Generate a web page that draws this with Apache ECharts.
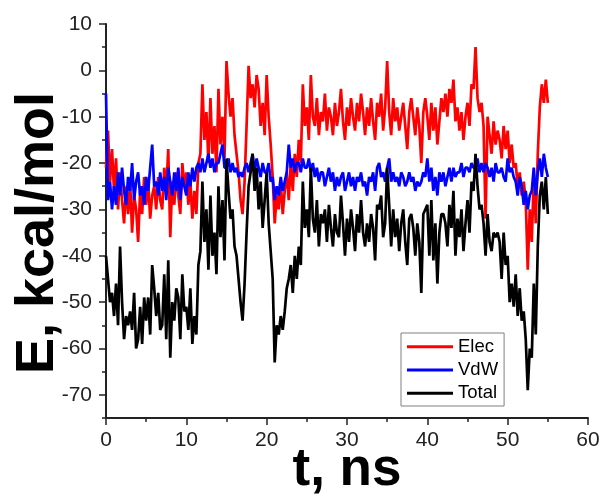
<!DOCTYPE html>
<html><head><meta charset="utf-8">
<script src="https://cdn.jsdelivr.net/npm/echarts@6/dist/echarts.min.js"></script>
<style>html,body{margin:0;padding:0;background:#fff}#c{width:601px;height:499px}</style>
</head><body><div id="c"></div>
<script>
const dt = 0.25; // ns between samples
const elec = [
-21,-13,-24,-17, -26,-19,-30,-22, -28,-33,-25,-31, -24,-35,-27,-30, -37,-26,-31,-23,
-29,-24,-32,-27, -25,-30,-23,-28, -30,-21,-26,-17, -36,-24,-29,-22, -27,-31,-20,-25,
-22,-29,-24,-32, -26,-31,-20,-18, -3,-15,-9,-20, -6,-18,-12,-22, -4,-16,-10,-19,
2,-5,-10,-6, -14,-18,-22,-28, -31,-24,-12,1, -6,-3,-8,-1, -4,-12,-7,-14,
-1,-10,-16,-23, -33,-27,-30,-24, -31,-26,-22,-28, -20,-26,-18,-23, -15,-20,-3,-12,
-8,-15,-1,-10, -12,-6,-14,-9, -11,-5,-13,-8, -10,-14,-7,-12, -9,-4,-11,-15,
-8,-12,-6,-10, -13,-7,-11,-5, -9,-14,-8,-12, -6,-11,-15,-7, -10,-5,-13,-8,
2,-9,-14,-6, -11,-8,-13,-10, -7,-12,-17,-9, -6,-10,-14,-8, -12,-20,-9,-6,
-10,-15,-7,-13, -8,-16,-11,-6, -9,-5,-10,-4, -7,-2,-11,-8, -13,-9,-15,-10,
-7,-12,-3,-4, 5,-6,-9,-7, -12,-32,-10,-14, -18,-11,-16,-13, -15,-19,-12,-17,
-13,-20,-16,-21, -20,-25,-22,-27, -24,-28,-43,-30, -37,-23,-33,-18, -8,-3,-7,-2,
-7
];
const vdw = [
-5,-28,-24,-30, -25,-29,-22,-27, -21,-26,-29,-23, -26,-20,-28,-24, -22,-27,-25,-29,
-23,-26,-21,-16, -25,-24,-27,-22, -26,-23,-28,-21, -24,-27,-22,-26, -21,-28,-23,-25,
-27,-22,-25,-21, -24,-21,-20,-22, -19,-22,-20,-18, -21,-19,-22,-20, -20,-18,-16,-21,
-21,-19,-22,-20, -22,-21,-23,-22, -23,-21,-20,-22, -20,-18,-22,-19, -21,-23,-20,-22,
-22,-20,-24,-23, -28,-25,-27,-23, -26,-24,-22,-16, -21,-19,-22,-20, -20,-22,-19,-21,
-21,-19,-22,-20, -23,-21,-24,-22, -22,-25,-23,-21, -24,-22,-26,-23, -25,-23,-22,-26,
-24,-22,-25,-23, -26,-23,-24,-22, -25,-24,-27,-23, -24,-22,-26,-21, -20,-23,-22,-24,
-21,-19,-24,-22, -24,-23,-25,-22, -23,-25,-24,-22, -24,-23,-26,-24, -25,-24,-22,-23,
-19,-24,-21,-26, -23,-27,-22,-24, -22,-25,-23,-21, -24,-21,-23,-22, -22,-20,-23,-21,
-21,-22,-20,-21, -21,-19,-22,-20, -22,-20,-21,-23, -21,-24,-20,-22, -22,-21,-23,-24,
-19,-22,-21,-23, -24,-27,-23,-25, -29,-26,-30,-27, -26,-21,-27,-22, -19,-23,-18,-21,
-23
];
const total = [
-40,-45,-50,-48, -53,-46,-55,-38, -50,-58,-53,-55, -52,-56,-48,-60, -58,-51,-59,-49,
-54,-49,-57,-42, -47,-53,-48,-56, -55,-44,-58,-41, -62,-50,-54,-47, -49,-58,-44,-52,
-51,-56,-47,-59, -53,-57,-42,-39, -24,-37,-30,-43, -27,-40,-35,-44, -25,-36,-28,-41,
-19,-26,-32,-30, -38,-40,-45,-50, -54,-46,-35,-25, -22,-18,-26,-21, -30,-24,-34,-28,
-22,-33,-39,-45, -63,-55,-57,-53, -56,-52,-47,-45, -42,-48,-40,-45, -38,-42,-24,-34,
-30,-36,-21,-32, -35,-28,-38,-31, -33,-30,-37,-29, -34,-38,-31,-35, -36,-27,-33,-40,
-32,-37,-30,-34, -39,-31,-35,-28, -35,-38,-33,-37, -31,-34,-41,-29, -30,-27,-36,-33,
-21,-29,-38,-30, -36,-32,-39,-33, -30,-37,-42,-32, -31,-34,-40,-33, -37,-48,-31,-30,
-29,-40,-28,-41, -33,-46,-35,-31, -31,-33,-38,-29, -34,-26,-40,-32, -36,-30,-39,-33,
-28,-35,-24,-26, -18,-25,-30,-29, -33,-40,-31,-37, -39,-35,-36,-35, -37,-45,-35,-42,
-40,-50,-46,-51, -44,-53,-47,-54, -52,-58,-69,-60, -62,-46,-57,-38, -27,-24,-30,-23,
-31
];
const seriesNames = ['Elec', 'VdW', 'Total'];
const xTicks = [0, 10, 20, 30, 40, 50, 60];
const yTicks = [10, 0, -10, -20, -30, -40, -50, -60, -70];

const font = 'Liberation Sans, Arial, sans-serif';
const toPairs = arr => arr.map((v, i) => [i * dt, v]);
const colors = ['#ff0000', '#0000ff', '#000000'];
const chart = echarts.init(document.getElementById('c'), null, {renderer: 'canvas'});
chart.setOption({
  animation: false,
  backgroundColor: '#fff',
  grid: {left: 106, right: 13, top: 24, bottom: 81, outerBoundsMode: 'none', containLabel: false},
  legend: {
    orient: 'vertical', left: 401, top: 333,
    data: seriesNames, icon: 'rect', itemWidth: 46, itemHeight: 3, itemGap: 3.3,
    padding: [3.7, 6, 2.7, 6], borderColor: '#808080', borderWidth: 1,
    textStyle: {fontFamily: font, fontSize: 18.5, lineHeight: 20, color: '#000'}
  },
  xAxis: {
    type: 'value', min: xTicks[0], max: xTicks[xTicks.length - 1], interval: 10,
    name: 't, ns', nameLocation: 'middle', nameGap: 26, nameMoveOverlap: false,
    nameTextStyle: {fontFamily: font, fontSize: 53, fontWeight: 'bold', color: '#000'},
    axisLine: {onZero: false, lineStyle: {color: '#222', width: 2}},
    axisTick: {length: 7, lineStyle: {color: '#222', width: 1.5}},
    minorTick: {show: true, splitNumber: 2, length: 4, lineStyle: {color: '#222', width: 1.5}},
    axisLabel: {fontFamily: font, fontSize: 21, color: '#222', margin: 12},
    splitLine: {show: false}
  },
  yAxis: [{
    type: 'value', min: -75, max: 10,
    name: 'E, kcal/mol', nameLocation: 'middle', nameGap: 41, nameMoveOverlap: false,
    nameTextStyle: {fontFamily: font, fontSize: 54, fontWeight: 'bold', color: '#000', padding: [0, 24, 0, 0]},
    axisLine: {show: true, onZero: false, lineStyle: {color: '#222', width: 2}},
    axisTick: {show: true, customValues: yTicks, length: 7, lineStyle: {color: '#222', width: 1.5}},
    axisLabel: {customValues: yTicks, fontFamily: font, fontSize: 21, color: '#222', margin: 14},
    splitLine: {show: false}
  }, {
    type: 'value', min: -75, max: 10, interval: 5, position: 'left',
    axisLine: {show: false, onZero: false}, axisLabel: {show: false}, splitLine: {show: false},
    axisTick: {show: true, length: 4, lineStyle: {color: '#222', width: 1.5}}
  }],
  series: [elec, vdw, total].map((d, i) => ({
    name: seriesNames[i], type: 'line', data: toPairs(d), yAxisIndex: 0,
    symbol: 'none', showSymbol: false, color: colors[i],
    lineStyle: {width: 2.7, color: colors[i]}
  }))
});
</script></body></html>
